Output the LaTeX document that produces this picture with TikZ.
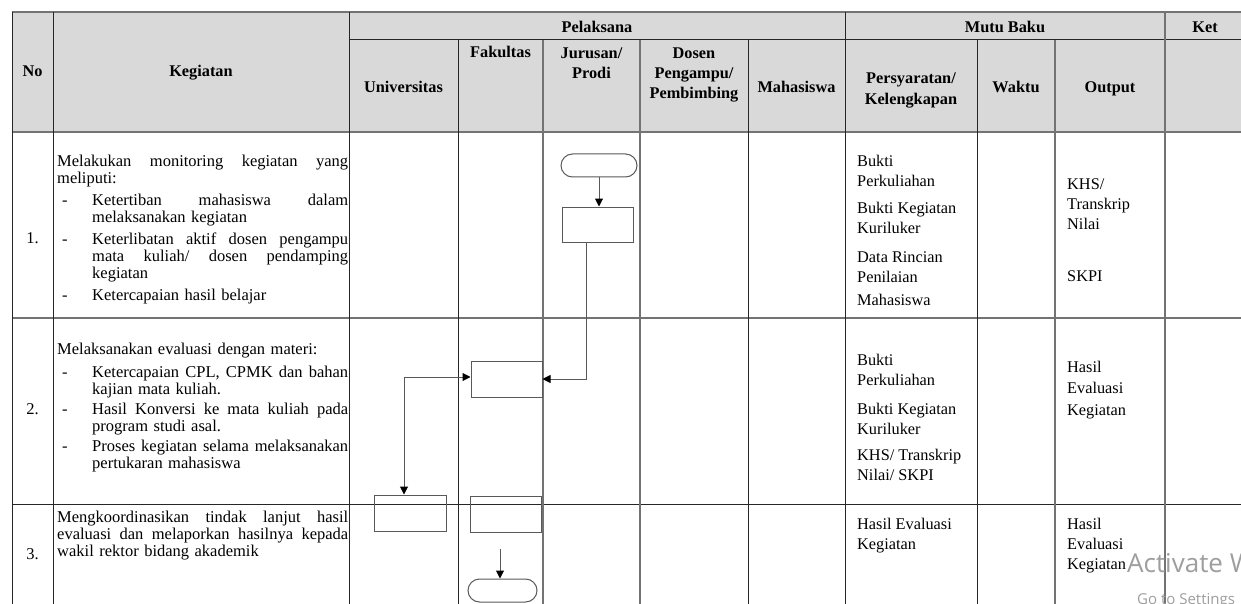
\documentclass[tikz,border=0pt]{standalone}
\usepackage{fontspec}
\setmainfont{Liberation Serif}
\newfontfamily\wmfont{Open Sans}
\usetikzlibrary{arrows.meta}
\definecolor{hdrfill}{HTML}{D9D9D9}
\newcommand\jbox[2]{\leavevmode\hbox to #1{#2}}
\newcommand\bul{\hspace*{5pt}\makebox[30pt][l]{-}}
\begin{document}
\begin{tikzpicture}[x=1pt,y=-1pt,
  tline/.style={draw=black!85, line width=1pt},
  gline/.style={draw=black!55, line width=1.4pt},
  hdr/.style={font=\bfseries\fontsize{16.3}{20}\selectfont, inner sep=0pt, align=center},
  txt/.style={font=\fontsize{16.5}{17}\selectfont, inner sep=0pt, anchor=north west, align=left},
  rtxt/.style={font=\fontsize{16.3}{20}\selectfont, inner sep=0pt, anchor=north west, align=left},
  fbox/.style={draw=black!65, line width=1pt, minimum width=71pt, minimum height=35pt, inner sep=0pt},
  term/.style={draw=black!65, line width=1pt, rounded corners=11.5pt, minimum width=76pt, minimum height=23pt, inner sep=0pt},
  tip/.style={-{Triangle[length=8pt,width=8pt,color=black]}},
  arr/.style={draw=black!65, line width=1pt, tip},
  arr2/.style={draw=black!65, line width=1pt, {Triangle[length=8pt,width=8pt,color=black]}-{Triangle[length=8pt,width=8pt,color=black]}},
]
\useasboundingbox (0,0) rectangle (1241,604);
\clip (0,0) rectangle (1241,604);
\fill[white] (0,0) rectangle (1241,604);
% header shading
\fill[hdrfill] (12,12) rectangle (1241,132);
% horizontal rules
\draw[gline] (12,12) -- (1241,12);
\draw[tline] (349,40) -- (1241,40);
\draw[gline] (12,132) -- (1241,132);
\draw[gline] (12,318) -- (1241,318);
\draw[tline] (12,504) -- (1241,504);
% vertical rules
\foreach \x in {12,53,349,845} \draw[tline] (\x,12) -- (\x,604);
\draw[gline] (1165,12) -- (1165,604);
\foreach \x in {458,748,977} \draw[tline] (\x,40) -- (\x,604);
\foreach \x in {543,640,1055} \draw[gline] (\x,40) -- (\x,604);

% header texts
\node[hdr, anchor=base] (hNo) at (32.5,77) {No};
\node[hdr, anchor=base] (hKeg) at (201,77) {Kegiatan};
\node[hdr, anchor=base] (hPel) at (597,33) {Pelaksana};
\node[hdr, anchor=base] (hMutu) at (1005,33) {Mutu Baku};
\node[hdr, anchor=base] (hKet) at (1205,33) {Ket};
\node[hdr, anchor=base] (hUniv) at (403.5,93) {Universitas};
\node[hdr, anchor=base] (hFak) at (500.5,58) {Fakultas};
\node[hdr, anchor=north] (hJur) at (591.5,45) {\rule{0pt}{13pt}Jurusan/\\Prodi};
\node[hdr, anchor=north] (hDos) at (694,45) {\rule{0pt}{13pt}Dosen\\Pengampu/\\Pembimbing};
\node[hdr, anchor=base] (hMhs) at (796.5,93) {Mahasiswa};
\node[hdr, anchor=north] (hPers) at (911,70) {\rule{0pt}{13pt}Persyaratan/\\[1pt]Kelengkapan};
\node[hdr, anchor=base] (hWak) at (1016,93) {Waktu};
\node[hdr, anchor=base] (hOut) at (1110,93) {Output};

% row numbers
\node[txt, anchor=base] (n1) at (32.5,243) {1.};
\node[txt, anchor=base] (n2) at (32.5,414) {2.};
\node[txt, anchor=base] (n3) at (32.5,559) {3.};

% Kegiatan texts
\node[txt, text width=291pt] (k1) at (57,154) {\noindent\rule{0pt}{12pt}\jbox{291pt}{Melakukan\hfill monitoring\hfill kegiatan\hfill yang}\\
meliputi:\\[5pt]
\bul\jbox{256pt}{Ketertiban\hfill mahasiswa\hfill dalam}\\
\hspace*{35pt}melaksanakan kegiatan\\[5pt]
\bul\jbox{256pt}{Keterlibatan\hfill aktif\hfill dosen\hfill pengampu}\\
\hspace*{35pt}\jbox{256pt}{mata\hfill kuliah/\hfill dosen\hfill pendamping}\\
\hspace*{35pt}kegiatan\\[5pt]
\bul Ketercapaian hasil belajar};

\node[txt, text width=291pt] (k2) at (57,342) {\noindent\rule{0pt}{12pt}Melaksanakan evaluasi dengan materi:\\[6pt]
\bul\jbox{256pt}{Ketercapaian\hfill CPL,\hfill CPMK\hfill dan\hfill bahan}\\
\hspace*{35pt}kajian mata kuliah.\\[3pt]
\bul\jbox{256pt}{Hasil\hfill Konversi\hfill ke\hfill mata\hfill kuliah\hfill pada}\\
\hspace*{35pt}program studi asal.\\[3pt]
\bul\jbox{256pt}{Proses\hfill kegiatan\hfill selama\hfill melaksanakan}\\
\hspace*{35pt}pertukaran mahasiswa};

\node[txt, text width=291pt] (k3) at (57,510) {\noindent\rule{0pt}{12pt}\jbox{291pt}{Mengkoordinasikan\hfill tindak\hfill lanjut\hfill hasil}\\
\jbox{291pt}{evaluasi\hfill dan\hfill melaporkan\hfill hasilnya\hfill kepada}\\
wakil rektor bidang akademik};

% Persyaratan texts
\node[rtxt] (p1) at (857,153) {\rule{0pt}{13pt}Bukti\\Perkuliahan\\[7pt]Bukti Kegiatan\\Kuriluker\\[9pt]Data Rincian\\Penilaian\\[3pt]Mahasiswa};
\node[rtxt] (p2) at (857,352) {\rule{0pt}{13pt}Bukti\\Perkuliahan\\[9pt]Bukti Kegiatan\\Kuriluker\\[6pt]KHS/ Transkrip\\Nilai/ SKPI};
\node[rtxt] (p3) at (857,516) {\rule{0pt}{13pt}Hasil Evaluasi\\Kegiatan};

% Output texts
\node[rtxt] (o1) at (1067,176) {\rule{0pt}{13pt}KHS/\\Transkrip\\Nilai\\[32pt]SKPI};
\node[rtxt] (o2) at (1067,359) {\rule{0pt}{13pt}Hasil\\[1pt]Evaluasi\\[2pt]Kegiatan};
\node[rtxt] (o3) at (1067,516) {\rule{0pt}{13pt}Hasil\\Evaluasi\\Kegiatan};

% flowchart shapes
\node[term] (t1) at (599,165.5) {};
\node[fbox] (r1) at (597.5,224.5) {};
\node[fbox, minimum height=36pt] (r2) at (506.5,379) {};
\node[fbox, minimum width=72pt, minimum height=36pt] (r3) at (410,513) {};
\node[fbox, minimum height=36pt] (r4) at (505.5,514) {};
\node[term, minimum width=69pt] (t2) at (502.5,590.5) {};

% connectors
\draw[arr] (t1.south) -- (t1.south |- r1.north);
\draw[arr] ([xshift=-11.5pt]r1.south) |- (r2.east);
\draw[arr2] ([xshift=-6pt]r3.north) |- ([yshift=2pt]r2.west);
\draw[arr, shorten <=16pt] ([xshift=-5.5pt]r4.south) -- ([xshift=-5.5pt]r4.south |- t2.north);

% watermark
\node[font=\wmfont\fontsize{26}{26}\selectfont, text=black!38, anchor=base west, inner sep=0pt] (wm1) at (1127,572) {Activate Windows};
\node[font=\wmfont\fontsize{15}{15}\selectfont, text=black!38, anchor=base west, inner sep=0pt] (wm2) at (1137,604) {Go to Settings};
\end{tikzpicture}
\end{document}
